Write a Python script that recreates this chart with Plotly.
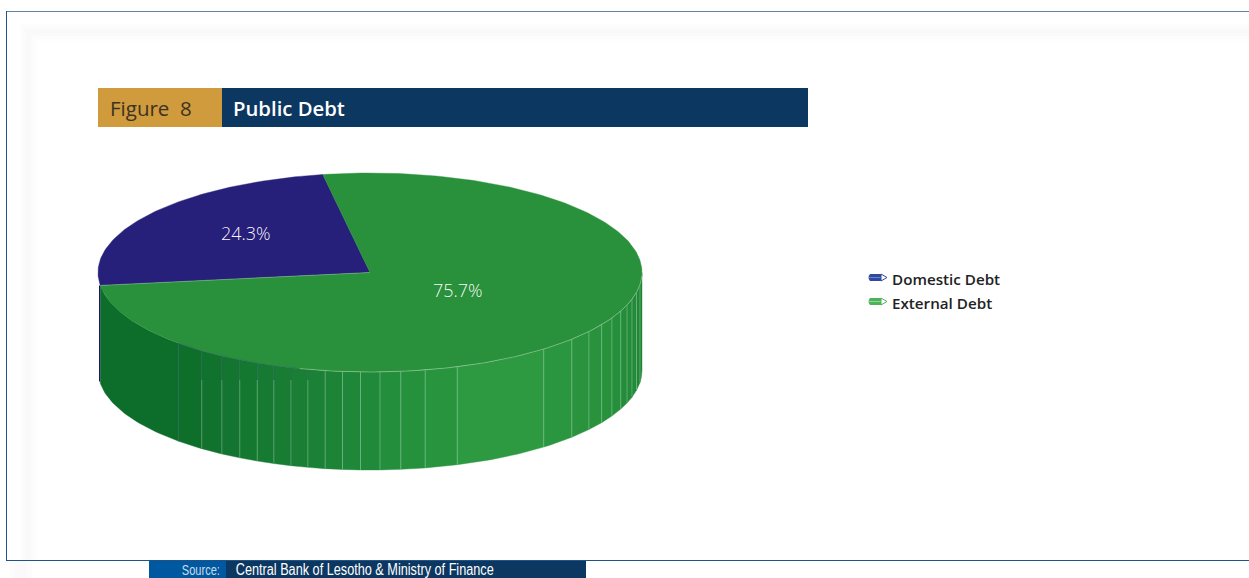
import math
import plotly.graph_objects as go

# Chart data
categories = ["Domestic Debt", "External Debt"]
shares = [24.3, 75.7]
figure_label = "Figure\u00a0\u00a08"
title = "Public Debt"
source_label = "Source:"
source_text = "Central Bank of Lesotho &amp; Ministry of Finance"

# Drawing geometry of the tilted disc
W, H = 1249, 578
CX, CY, RX, RY, DEPTH = 370, 272.5, 272, 99.5, 98
WALL_LEFT = 100
START = -10  # degrees clockwise from 12 o'clock where the external slice begins
TOP_COLORS = {"Domestic Debt": "#27207a", "External Debt": "#29913b"}
WALL_NAVY = "#1c1464"
# Facet seams on the front wall, degrees from the left-hand extreme
SEAMS = [45.3, 51.8, 57, 61.4, 65.5, 69.3, 73.1, 76.8, 80.5, 84.2, 88, 92.1, 96.5,
         101.7, 108.7, 129.7, 137.9, 143.6, 148.4, 152.8, 157.2, 160.9, 164.4, 168.5, 173]
WALL_STOPS = [(0, (12, 108, 42)), (45, (13, 109, 42)), (76, (26, 127, 53)), (96, (36, 143, 60)),
              (118, (45, 154, 65)), (150, (39, 145, 60)), (180, (30, 132, 54))]


def pt(theta, dy=0.0):
    """Screen position of a rim point; theta is clockwise from 12 o'clock."""
    t = math.radians(theta)
    return CX + RX * math.sin(t), CY - RY * math.cos(t) + dy


def arc(a, b, dy=0.0, step=1.0):
    n = max(2, int(abs(b - a) / step) + 1)
    return [pt(a + (b - a) * i / (n - 1), dy) for i in range(n)]


def wall_arc(a, b, dy=0.0):
    # The wall sits a touch inside the top face on the far left
    return [(max(x, WALL_LEFT), y) for x, y in arc(a, b, dy)]


def wall_color(a):
    for (a0, c0), (a1, c1) in zip(WALL_STOPS, WALL_STOPS[1:]):
        if a0 <= a <= a1:
            f = (a - a0) / (a1 - a0)
            return "rgb(%d,%d,%d)" % tuple(round(p + (q - p) * f) for p, q in zip(c0, c1))
    return "rgb(%d,%d,%d)" % WALL_STOPS[-1][1]


def poly(points, color):
    return go.Scatter(x=[p[0] for p in points] + [points[0][0]],
                      y=[p[1] for p in points] + [points[0][1]],
                      mode="lines", fill="toself", fillcolor=color,
                      line=dict(width=0.4, color=color), hoverinfo="skip", showlegend=False)


def stroke(points, color, width=1.0):
    return go.Scatter(x=[p[0] for p in points], y=[p[1] for p in points], mode="lines",
                      line=dict(width=width, color=color), hoverinfo="skip", showlegend=False)


# Slice angles follow from the shares
total = sum(shares)
ext_sweep = shares[1] / total * 360
ext_start, ext_end = START, START + ext_sweep
dom_start, dom_end = ext_end, START + 360

fig = go.Figure()

# Side wall: the external facets, edged on the left by the domestic slice
edges = [270 - ext_end] + [a for a in SEAMS if a > 270 - ext_end] + [180]
for a0, a1 in zip(edges, edges[1:]):
    t0, t1 = 270 - a0, 270 - a1
    fig.add_trace(poly(wall_arc(t0, t1) + wall_arc(t1, t0, DEPTH), wall_color((a0 + a1) / 2)))

_, edge_y = pt(dom_start)
fig.add_trace(stroke([(WALL_LEFT - 0.4, edge_y), (WALL_LEFT - 0.4, edge_y + DEPTH - 2)], WALL_NAVY, 1.2))

for a in SEAMS:
    t = 270 - a
    x0, y0 = pt(t)
    _, y1 = pt(t, DEPTH)
    if a < 78:
        y_split = max(y0 + 4, 380) if a > 47 else y1
        fig.add_trace(stroke([(x0, y0), (x0, y_split)], "rgba(45,100,100,0.75)", 0.8))
        if y_split < y1:
            fig.add_trace(stroke([(x0, y_split), (x0, y1)], "rgba(255,255,255,0.27)", 0.9))
    else:
        fig.add_trace(stroke([(x0, y0), (x0, y1)], "rgba(255,255,255,0.3)", 0.9))

# Top face
apex = (CX, CY)
fig.add_trace(poly([apex] + arc(dom_start, dom_end), TOP_COLORS[categories[0]]))
fig.add_trace(poly([apex] + arc(ext_start, ext_end), TOP_COLORS[categories[1]]))

# Rim highlights and the slice border
fig.add_trace(stroke(arc(195, 92), "rgba(255,255,255,0.4)", 0.8))
fig.add_trace(stroke(arc(225, 195), "rgba(45,100,100,0.7)", 0.8))
fig.add_trace(stroke([apex, pt(dom_start)], "rgba(255,255,255,0.3)", 0.8))

shapes = []
# Soft inner panel edge
for off, col in [(0, "#fdfdfd"), (3, "#fbfbfb"), (6, "#f9f9f9"), (9, "#fafafa"), (12, "#fcfcfc"), (15, "#fefefe"), (18, "#ffffff")]:
    shapes.append(dict(type="rect", x0=20 + off, y0=24 + off, x1=W + 20, y1=H + 20,
                       fillcolor=col, line_width=0, layer="below"))
shapes.append(dict(type="rect", x0=0, y0=561, x1=W, y1=H, fillcolor="#ffffff", line_width=0, layer="below"))
for x0, x1, col in [(10, 32, "#fcfcfc"), (15, 27, "#fafafa")]:
    shapes.append(dict(type="rect", x0=x0, y0=561, x1=x1, y1=H, fillcolor=col, line_width=0, layer="below"))

# Frame
shapes.append(dict(type="line", x0=6, y0=11.5, x1=W, y1=11.5, line=dict(color="#5f86a8", width=1)))
shapes.append(dict(type="line", x0=6.5, y0=11, x1=6.5, y1=561, line=dict(color="#1f5488", width=1)))
shapes.append(dict(type="line", x0=6, y0=560.5, x1=W, y1=560.5, line=dict(color="#1f5488", width=1)))

# Title and source bands
shapes.append(dict(type="rect", x0=98, y0=88, x1=222, y1=127, fillcolor="#cf9b3d", line_width=0))
shapes.append(dict(type="rect", x0=222, y0=88, x1=808, y1=127, fillcolor="#0c3761", line_width=0))
shapes.append(dict(type="rect", x0=149, y0=561, x1=226, y1=H, fillcolor="#0058a1", line_width=0))
shapes.append(dict(type="rect", x0=226, y0=561, x1=586, y1=H, fillcolor="#0c3761", line_width=0))

# Pencil-shaped legend keys
for yc, body, stripe in [(277.5, "#2f4aa0", "#6f86c8"), (301.5, "#4cb35a", "#8fd69a")]:
    shapes.append(dict(type="path",
                       path=f"M 870 {yc-3.5} L 881 {yc-3.5} L 881 {yc+3.5} L 870 {yc+3.5} Q 867 {yc} 870 {yc-3.5} Z",
                       fillcolor=body, line_width=0))
    shapes.append(dict(type="line", x0=869, y0=yc, x1=881, y1=yc, line=dict(color=stripe, width=1)))
    shapes.append(dict(type="path", path=f"M 881 {yc-3.5} L 887 {yc} L 881 {yc+3.5} Z",
                       fillcolor="#ffffff", line=dict(color=body, width=1)))


def note(x, y, text, size, color, family, anchor="left", weight="normal"):
    return dict(x=x, y=y, xref="x", yref="y", text=text, showarrow=False, xanchor=anchor, yanchor="middle",
                font=dict(size=size, color=color, family=family, weight=weight))


SANS = "Open Sans, Noto Sans, sans-serif"
ARIAL = "Liberation Sans, sans-serif"
annotations = [
    note(107.5, 108, figure_label, 20.5, "#3c3222", SANS),
    note(230.5, 107.5, title, 20.3, "#ffffff", SANS, weight=600),
    note(246, 233, f"{shares[0]}%", 18, "rgba(255,255,255,0.97)", SANS, "center", weight=300),
    note(458, 290, f"{shares[1]}%", 18, "rgba(255,255,255,0.97)", SANS, "center", weight=300),
    note(890, 279, categories[0], 15.2, "#222222", SANS, weight=600),
    note(890, 303, categories[1], 15.2, "#222222", SANS, weight=600),
    note(201, 569.5, source_label, 15, "rgba(255,255,255,0.8)", ARIAL, "center"),
    note(365, 569.5, source_text, 16, "#ffffff", ARIAL, "center"),
]

fig.update_layout(
    width=W, height=H, margin=dict(l=0, r=0, t=0, b=0),
    paper_bgcolor="#ffffff", plot_bgcolor="#ffffff", showlegend=False,
    xaxis=dict(range=[0, W], visible=False, fixedrange=True),
    yaxis=dict(range=[H, 0], visible=False, fixedrange=True),
    shapes=shapes, annotations=annotations,
)

# The source line is set in a condensed cut: squeeze its glyphs to the band's text widths
condense = """
var gd = document.getElementById('{plot_id}');
function condense() {
  gd.querySelectorAll('.annotation-text').forEach(function (t) {
    var s = t.textContent;
    if (s.indexOf('Source') === 0) { t.setAttribute('textLength', 38); t.setAttribute('lengthAdjust', 'spacingAndGlyphs'); }
    if (s.indexOf('Central') === 0) { t.setAttribute('textLength', 258); t.setAttribute('lengthAdjust', 'spacingAndGlyphs'); }
  });
}
condense();
setTimeout(condense, 0);
gd.on && gd.on('plotly_afterplot', condense);
"""
fig.write_html("out.html", config={"displayModeBar": False}, post_script=condense)
